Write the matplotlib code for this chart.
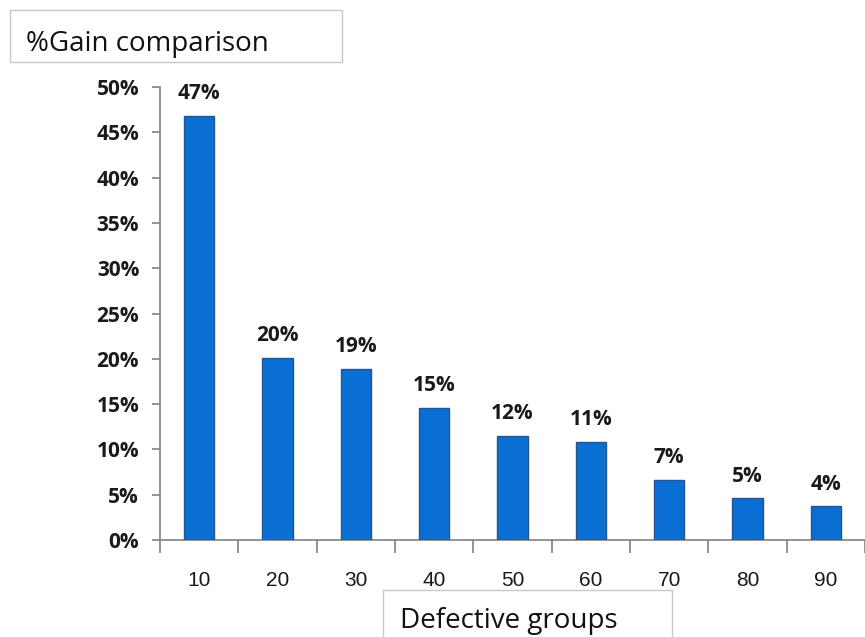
import matplotlib.pyplot as plt
import matplotlib.patches as patches
import numpy as np

# defect group sizes and the percentage gain for each
groups = ['10', '20', '30', '40', '50', '60', '70', '80', '90']
gain = [46.8, 20.1, 18.9, 14.6, 11.5, 10.8, 6.6, 4.6, 3.7]
yticks = [0, 5, 10, 15, 20, 25, 30, 35, 40, 45, 50]

W, H = 865, 637
fig = plt.figure(figsize=(W / 100, H / 100), dpi=100)
ax = fig.add_axes([160 / W, 1 - 540 / H, 705 / W, 453 / H])

x = np.arange(len(groups))
ax.bar(x, gain, width=0.39, color='#0a6fd2', edgecolor='#25558f', linewidth=1.0, zorder=3)

for xi, v in zip(x, gain):
    ax.text(xi, v + 1.3, '%d%%' % round(v), ha='center', va='bottom',
            fontsize=15, fontweight='bold', family='Open Sans', color='#1a1a1a')

ax.set_xlim(-0.5, 8.42)
ax.set_ylim(0, 50)
ax.set_yticks(yticks)
ax.set_yticklabels(['%d%%' % t for t in yticks], fontsize=15, fontweight='bold',
                   family='Open Sans', color='#1a1a1a')

# category labels centred under bars, ticks at the boundaries
ax.set_xticks(np.arange(len(groups) + 1) - 0.5)
ax.set_xticklabels([])
ax.set_xticks(x, minor=True)
ax.set_xticklabels(groups, minor=True, fontsize=15, family='Liberation Sans', color='#1a1a1a')
ax.tick_params(axis='x', which='minor', length=0, pad=22)
ax.tick_params(axis='x', which='major', length=9, width=1.2, color='#808080', direction='out')
ax.tick_params(axis='y', length=6, width=1.2, color='#808080', pad=9)

for s in ['top', 'right']:
    ax.spines[s].set_visible(False)
for s in ['left', 'bottom']:
    ax.spines[s].set_color('#808080')
    ax.spines[s].set_linewidth(1.2)

# boxed title and axis caption
fig.patches.append(patches.Rectangle((10 / W, 1 - 62 / H), 332 / W, 52 / H,
                                     transform=fig.transFigure, facecolor='white',
                                     edgecolor='#c8c8c8', linewidth=1.0))
fig.text(26 / W, 1 - 44 / H, '%Gain comparison', fontsize=20, family='Open Sans',
         color='#111111', va='center', ha='left')

fig.patches.append(patches.Rectangle((383 / W, 1 - 650 / H), 289 / W, 60 / H,
                                     transform=fig.transFigure, facecolor='white',
                                     edgecolor='#c8c8c8', linewidth=1.0))
fig.text(400 / W, 1 - 621 / H, 'Defective groups', fontsize=20, family='Open Sans',
         color='#111111', va='center', ha='left')

fig.savefig('out.png', dpi=100)
